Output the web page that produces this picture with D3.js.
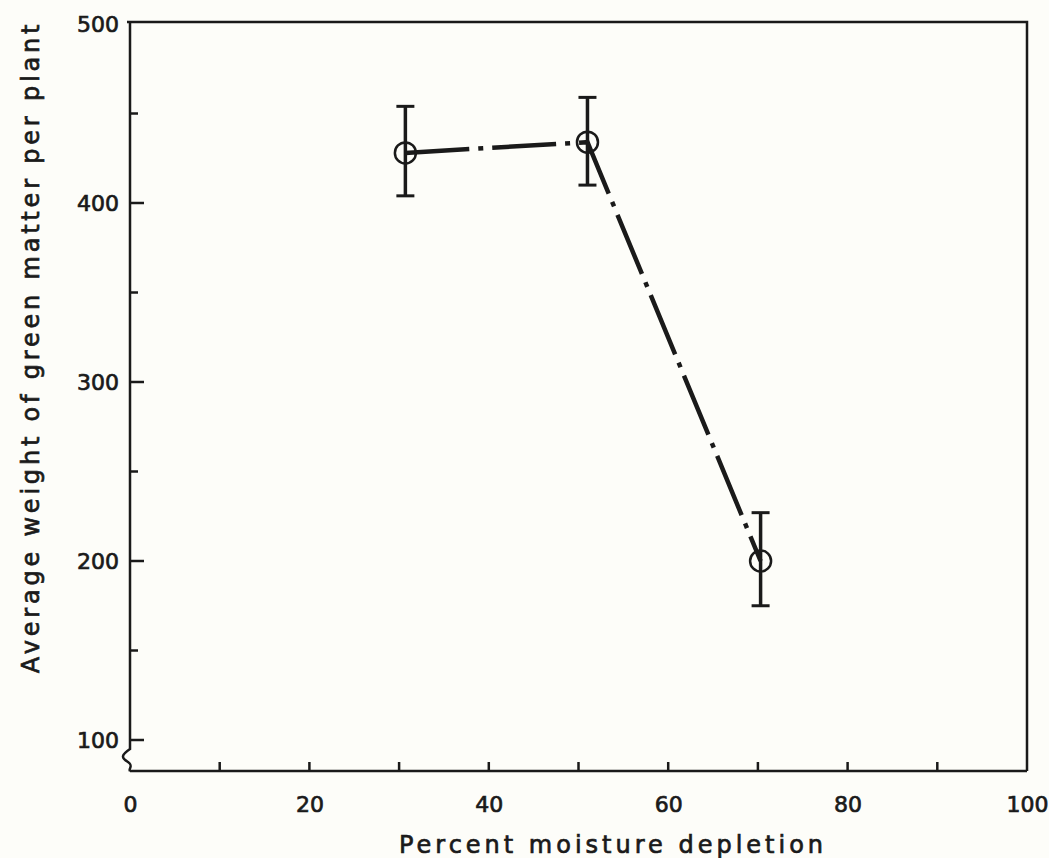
<!DOCTYPE html>
<html><head><meta charset="utf-8">
<script src="https://cdn.jsdelivr.net/npm/d3@7"></script>
<style>
html,body{margin:0;padding:0;background:#fdfdf9;}
svg{display:block;}
text{font-family:"DejaVu Sans",sans-serif;fill:#1a1a1a;stroke:#1a1a1a;stroke-width:0.7px;}
</style></head>
<body>
<svg id="chart" width="1049" height="858"></svg>
<script>
const moisture = [30.7, 51, 70.3];
const weight = [428, 434, 200];
const errLow = [404, 410, 175];
const errHigh = [454, 459, 227];
const xTicks = [0, 20, 40, 60, 80, 100];
const xMinorTicks = [10, 30, 50, 70, 90];
const yTicks = [100, 200, 300, 400, 500];
const yMinorTicks = [150, 250, 350, 450];
const xTitle = "Percent moisture depletion";
const yTitle = "Average weight of green matter per plant";

(function(){
const svg = d3.select("#chart");
const left = 130, right = 1027, topY = 24, bottomAxis = 771;
const x = d3.scaleLinear().domain([0, 100]).range([left, right]);
const y = d3.scaleLinear().domain([100, 500]).range([740, 24]);
const ink = "#1a1a1a";

svg.append("path").attr("d", `M${left-3},${topY-2} H${right} V${bottomAxis}`)
  .attr("fill","none").attr("stroke",ink).attr("stroke-width",2.5);
svg.append("line").attr("x1",left).attr("x2",right).attr("y1",bottomAxis).attr("y2",bottomAxis)
  .attr("stroke",ink).attr("stroke-width",2.5);
svg.append("path").attr("d",`M${left},${topY-2} V749 C${left-9},755 ${left-9},758 ${left-2},762 C${left+4},766 ${left-2},769 ${left},${bottomAxis}`)
  .attr("fill","none").attr("stroke",ink).attr("stroke-width",2.5);

const xAxis = d3.axisBottom(x).tickValues(xTicks).tickSize(0).tickPadding(25).tickFormat(d3.format("d"));
const gx = svg.append("g").attr("transform",`translate(0,${bottomAxis})`).call(xAxis);
gx.select(".domain").remove();
gx.selectAll("text").attr("font-size",22).style("font-family","DejaVu Sans").attr("fill",ink);
svg.append("g").selectAll("line").data(xTicks.concat(xMinorTicks).filter(d=>d>0&&d<100)).join("line")
  .attr("x1",d=>x(d)).attr("x2",d=>x(d)).attr("y1",bottomAxis).attr("y2",bottomAxis-9)
  .attr("stroke",ink).attr("stroke-width",2.5);

const yAxis = d3.axisLeft(y).tickValues(yTicks).tickSize(0).tickPadding(11);
const gy = svg.append("g").attr("transform",`translate(${left},0)`).call(yAxis);
gy.select(".domain").remove();
gy.selectAll("text").attr("font-size",22).style("font-family","DejaVu Sans").attr("fill",ink);
svg.append("g").selectAll("line").data(yTicks.filter(d=>d<500).concat(yMinorTicks)).join("line")
  .attr("x1",left).attr("x2",d=>yTicks.includes(d)?left+14:left+8).attr("y1",d=>y(d)).attr("y2",d=>y(d))
  .attr("stroke",ink).attr("stroke-width",2.5);

svg.append("text").attr("x",613).attr("y",853).attr("text-anchor","middle")
  .attr("font-size",24).attr("letter-spacing",4).text(xTitle);
svg.append("text").attr("transform",`translate(39,347) rotate(-90)`).attr("text-anchor","middle")
  .attr("font-size",24).attr("letter-spacing",3.8).text(yTitle);

const pts = moisture.map((m,i)=>({m, w:weight[i], lo:errLow[i], hi:errHigh[i]}));
const line = d3.line().x(d=>x(d.m)).y(d=>y(d.w));
svg.append("path").datum(pts).attr("d",line).attr("fill","none").attr("stroke",ink)
  .attr("stroke-width",4.5).attr("stroke-dasharray","64,9,5,9");

const eb = svg.append("g").selectAll("g").data(pts).join("g");
eb.append("line").attr("x1",d=>x(d.m)).attr("x2",d=>x(d.m)).attr("y1",d=>y(d.lo)).attr("y2",d=>y(d.hi))
  .attr("stroke",ink).attr("stroke-width",3.5);
eb.append("line").attr("x1",d=>x(d.m)-9).attr("x2",d=>x(d.m)+9).attr("y1",d=>y(d.lo)).attr("y2",d=>y(d.lo))
  .attr("stroke",ink).attr("stroke-width",3);
eb.append("line").attr("x1",d=>x(d.m)-9).attr("x2",d=>x(d.m)+9).attr("y1",d=>y(d.hi)).attr("y2",d=>y(d.hi))
  .attr("stroke",ink).attr("stroke-width",3);
eb.append("circle").attr("cx",d=>x(d.m)).attr("cy",d=>y(d.w)).attr("r",10.5)
  .attr("fill","none").attr("stroke",ink).attr("stroke-width",2.5);
})();
</script>
</body></html>
